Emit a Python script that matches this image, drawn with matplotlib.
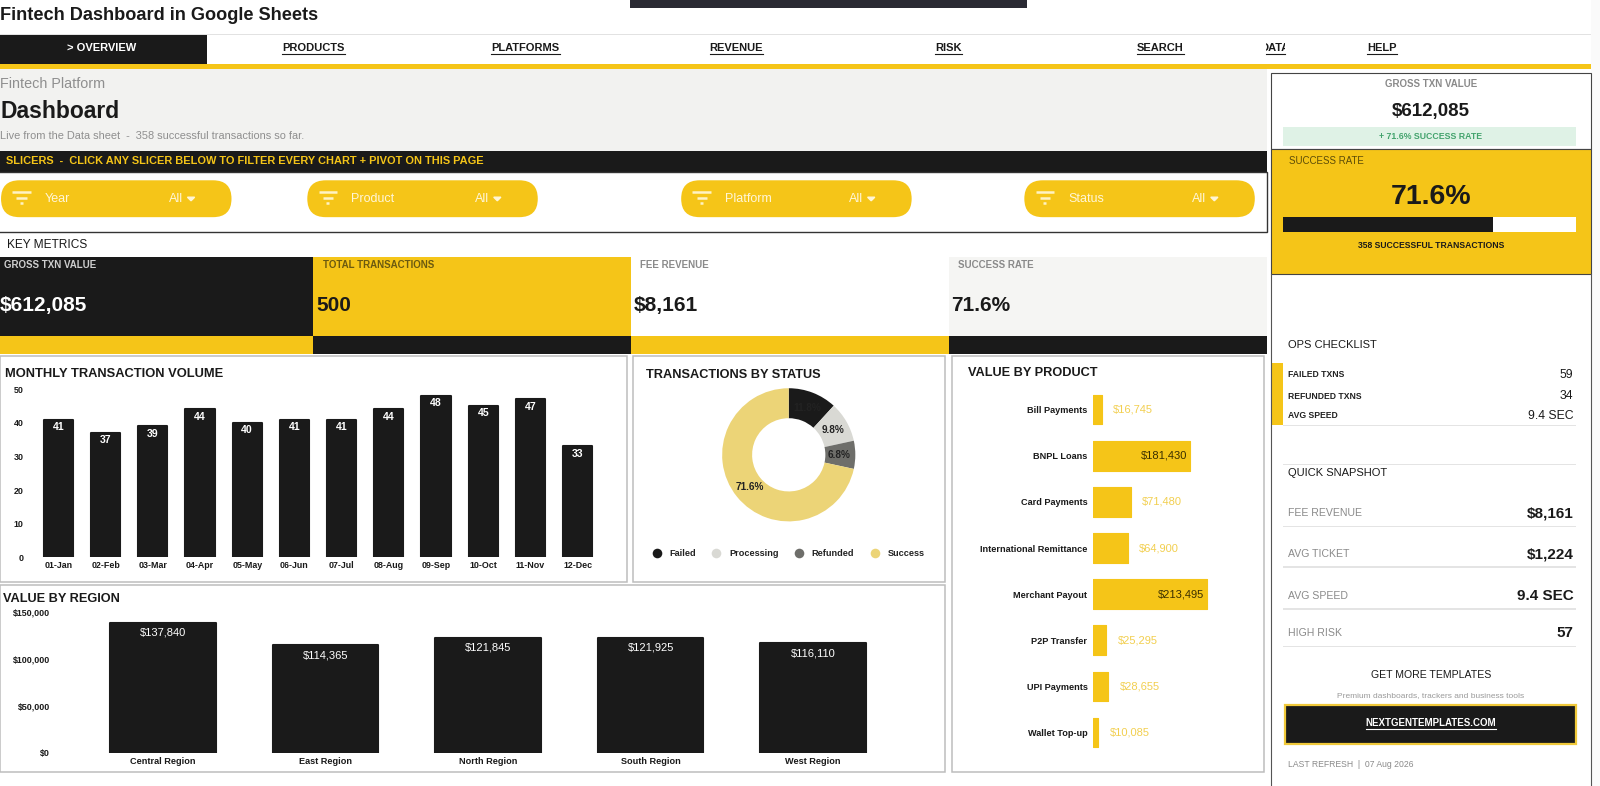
import matplotlib
matplotlib.use("Agg")
import matplotlib.pyplot as plt
from matplotlib.patches import Rectangle, FancyBboxPatch

# ---- data ----
months = ["01-Jan","02-Feb","03-Mar","04-Apr","05-May","06-Jun","07-Jul","08-Aug","09-Sep","10-Oct","11-Nov","12-Dec"]
month_counts = [41,37,39,44,40,41,41,44,48,45,47,33]
regions = ["Central Region","East Region","North Region","South Region","West Region"]
region_values = [137840,114365,121845,121925,116110]
products = ["Bill Payments","BNPL Loans","Card Payments","International Remittance","Merchant Payout","P2P Transfer","UPI Payments","Wallet Top-up"]
product_values = [16745,181430,71480,64900,213495,25295,28655,10085]
statuses = ["Failed","Processing","Refunded","Success"]
status_counts = [59,49,34,358]
status_colors = ["#1a1a1a","#d9d9d4","#6e6e6a","#ecd477"]
nav_items = ["PRODUCTS","PLATFORMS","REVENUE","RISK","SEARCH","HELP"]
nav_x = [306,513,719,926,1133,1349]
slicers = ["Year","Product","Platform","Status"]
slicer_x = [1,300,665,1000]
kpi_labels = ["GROSS TXN VALUE","TOTAL TRANSACTIONS","FEE REVENUE","SUCCESS RATE"]
kpi_values = ["$612,085","500","$8,161","71.6%"]
ops_rows = [("FAILED TXNS","59",366),("REFUNDED TXNS","34",387),("AVG SPEED","9.4 SEC",406)]
snap_rows = [("FEE REVENUE","$8,161",501,513),("AVG TICKET","$1,224",541,553),("AVG SPEED","9.4 SEC",582,594),("HIGH RISK","57",618,631)]

YEL="#f5c518"; BLK="#1a1a1a"; GRY="#8a8a8a"
W,H=1562,767.3
plt.rcParams['font.family']=['Liberation Sans','DejaVu Sans']
fig=plt.figure(figsize=(16,7.86),dpi=100,facecolor="white")
bg=fig.add_axes([0,0,1,1]); bg.set_xlim(0,W); bg.set_ylim(H,0); bg.axis("off")
rend=fig.canvas.get_renderer()

def R(x0,y0,x1,y1,fc,ec="none",lw=0,z=1):
    bg.add_patch(Rectangle((x0,y0),x1-x0,y1-y0,fc=fc,ec=ec,lw=lw,zorder=z))
def T(x,y,s,size,color=BLK,w="bold",ha="left",z=5,ul=False,**k):
    t=bg.text(x,y,s,fontsize=size,color=color,fontweight=w,ha=ha,va="center",zorder=z,**k)
    if ul:
        e=t.get_window_extent(rend); sc=W/1600
        bg.plot([e.x0*sc,e.x1*sc],[y+5.5,y+5.5],color=color,lw=0.8,zorder=z)
    return t
def A(x0,y0,x1,y1):
    a=fig.add_axes([x0/W,1-y1/H,(x1-x0)/W,(y1-y0)/H]); a.patch.set_alpha(0); return a

# header
R(615,0,1003,8,"#2a2a33")
R(1553,0,1562,767.3,"#fafafa")
T(0,15,"Fintech Dashboard in Google Sheets",13.1)
R(0,33.5,1553,34.5,"#e2e2e2")
R(0,34,202,62,BLK)
T(99,47,"> OVERVIEW",8,"white",ha="center")
for s,x in zip(nav_items,nav_x):
    T(x,47,s,8,BLK,ha="center",ul=True)
clip=Rectangle((1236,0),18,767,transform=bg.transData)
t=bg.text(1245,47,"DATA",fontsize=8,fontweight="bold",color=BLK,ha="center",va="center",zorder=5)
t.set_clip_path(clip); t.set_clip_on(True)
bg.plot([1236,1254],[52.5,52.5],color=BLK,lw=0.8,zorder=5)
R(0,62,1553,67,YEL)
# hero
R(0,67,1237,147,"#f2f2f0")
T(0,82,"Fintech Platform",10.4,"#8f8f8f","normal")
T(0,109,"Dashboard",16.5,BLK)
T(0,133,"Live from the Data sheet  -  358 successful transactions so far.",7.9,"#8f8f8f","normal")
R(0,147,1237,168,BLK)
T(6,157,"SLICERS  -  CLICK ANY SLICER BELOW TO FILTER EVERY CHART + PIVOT ON THIS PAGE",7.9,YEL)
R(-2,168,1237,226,"white",ec="#333333",lw=1)
for s,x in zip(slicers,slicer_x):
    bg.add_patch(FancyBboxPatch((x,176),225,36,boxstyle="round,pad=0,rounding_size=18",fc=YEL,ec=YEL,lw=0,zorder=3))
    for ww,yy in [(9,187.5),(5,193),(1.5,198)]:
        bg.plot([x+20-ww,x+20+ww],[yy,yy],color="#fff3c4",lw=1.8,zorder=4,solid_capstyle="butt")
    T(x+43,194,s,9,"#fff6d8","normal")
    T(x+164,194,"All",9,"#fff6d8","normal")
    bg.fill([x+182,x+189,x+185.5],[192.5,192.5,196],color="#fff6d8",zorder=4)
# KPIs
T(7,239,"KEY METRICS",8.6,BLK,"normal")
R(0,250.5,1237,251.5,"#dddddd")
kx=[0,306,616,926,1237]
fcs=[BLK,YEL,"white","#f5f5f3"]; lcs=["#cfcfcf","#6b5a10","#8a8a8a","#8a8a8a"]; vcs=["white",BLK,BLK,BLK]; strip=[YEL,BLK,YEL,BLK]
for i in range(4):
    R(kx[i],251,kx[i+1],328,fcs[i]); R(kx[i],328,kx[i+1],346,strip[i])
    T(kx[i]+(4 if i==0 else 9),258.5,kpi_labels[i],7,lcs[i])
    T(kx[i]+(0 if i==0 else 3),298,kpi_values[i],15,vcs[i])
# panels
for (a,b,c,d) in [(0,348,612,568),(618,348,923,568),(929,348,1234,754),(0,571,923,754)]:
    R(a,b,c,d,"white",ec="#bdbdbd",lw=1.1)
T(5,365,"MONTHLY TRANSACTION VOLUME",9.3)
T(631,366,"TRANSACTIONS BY STATUS",9.2)
T(945,364,"VALUE BY PRODUCT",9.2)
T(3,585,"VALUE BY REGION",9.2)

def clean(a):
    for s in a.spines.values(): s.set_visible(False)
    a.tick_params(length=0)
    a.patch.set_alpha(0)

# monthly
a=A(34,380,587,544); clean(a)
b=a.bar(range(12),month_counts,width=0.62,color=BLK,ec=BLK,lw=1.5)
for p in b: p.set_joinstyle("round")
a.set_xlim(-.5,11.5); a.set_ylim(0,50)
a.set_xticks(range(12),months,fontsize=6.4,fontweight="bold",color=BLK); a.tick_params(axis="x",pad=3)
a.set_yticks(range(0,51,10)); a.tick_params(axis="y",labelsize=6.4,pad=8,labelcolor=BLK)
for l in a.get_yticklabels(): l.set_fontweight("bold")
for i,v in enumerate(month_counts):
    a.text(i,v-2.2,str(v),color="white",fontsize=7.6,fontweight="bold",ha="center",va="center")

# region
a=A(80,597,873,735); clean(a)
b=a.bar(range(5),region_values,width=0.65,color=BLK,ec=BLK,lw=1.5)
for p in b: p.set_joinstyle("round")
a.set_xlim(-.5,4.5); a.set_ylim(0,150000)
a.set_xticks(range(5),regions,fontsize=6.6,fontweight="bold",color=BLK); a.tick_params(axis="x",pad=3)
a.set_yticks([0,50000,100000,150000],["$0","$50,000","$100,000","$150,000"],fontsize=6.4,fontweight="bold",color=BLK)
a.tick_params(axis="y",pad=23)

for i,v in enumerate(region_values):
    a.text(i,v-10500,f"${v:,}",color="white",fontsize=8,ha="center",va="center")

# product
a=A(1067,377.5,1197,737.5); clean(a)
ys=list(range(len(products)))
b=a.barh(ys,product_values,height=0.64,color=YEL,ec=YEL,lw=0.8)
for p in b: p.set_joinstyle("round")
a.set_ylim(len(products)-.5,-.5); a.set_xlim(0,250000)
a.set_xticks([])
a.set_yticks(ys,products,fontsize=6.6,fontweight="bold",color=BLK); a.tick_params(axis="y",pad=4)
for y,v in zip(ys,product_values):
    if v>150000:
        a.text(v-5000,y,f"${v:,}",fontsize=8,color="#3a2f00",ha="right",va="center")
    else:
        a.text(v+21000,y,f"${v:,}",fontsize=8,color="#f2cf4f",ha="left",va="center")

# donut
a=A(700,379,840,509); a.axis("off")
w,_,pct=a.pie(status_counts,colors=status_colors,startangle=90,counterclock=False,radius=1.0,
          wedgeprops=dict(width=0.45,lw=0),autopct="%.1f%%",pctdistance=0.76,
          textprops=dict(fontsize=7.2,fontweight="bold",color="#222222"))
a.set_aspect("equal")
a.set_xlim(-1.0,1.0); a.set_ylim(-1.0,1.0)
tot=sum(status_counts)
for s,c,x,tx in zip(statuses,status_colors,[641,699,780,854],[653,712,792,867]):
    bg.scatter([x],[540],s=48,color=c,zorder=5,lw=0)
    T(tx,540,s,6.6,"#222222")

# sidebar
R(1241,71,1553,145,"white",ec="#444444",lw=0.8)
T(1397,82,"GROSS TXN VALUE",7,"#8a8a8a",ha="center")
T(1397,109,"$612,085",13.5,BLK,ha="center")
R(1253,124,1539,143,"#dff2e6")
T(1397,133,"+ 71.6% SUCCESS RATE",6.3,"#43a36d",ha="center")
R(1241,145,1553,267,YEL,ec="#444444",lw=0.8)
T(1258,157,"SUCCESS RATE",7,"#5c4c08","normal")
T(1397,192,"71.6%",20.5,BLK,ha="center")
R(1253,212,1539,226,"white")
R(1253,212,1253+286*status_counts[3]/tot,226,BLK)
T(1397,240,"358 SUCCESSFUL TRANSACTIONS",6.2,BLK,ha="center")
bg.plot([1241,1241],[267,767],color="#555555",lw=0.8,zorder=2)
bg.plot([1553,1553],[267,767],color="#555555",lw=0.8,zorder=2)
T(1257,337,"OPS CHECKLIST",8,BLK,"normal")
R(1241,354,1253,415,YEL)
for l,v,y in ops_rows:
    T(1257,y,l,6.2,"#222222")
    T(1536,y,v,8.8,BLK,"normal",ha="right")
R(1253,415,1539,416,"#e4e4e4")
R(1253,453,1539,454,"#e4e4e4")
T(1257,462,"QUICK SNAPSHOT",8,BLK,"normal")
for l,v,y,ly in snap_rows:
    T(1257,y,l,7.6,"#8a8a8a","normal")
    T(1536,y,v,11,BLK,ha="right")
    R(1253,ly,1539,ly+1,"#e4e4e4")
T(1397,659,"GET MORE TEMPLATES",7.6,BLK,"normal",ha="center")
T(1397,679,"Premium dashboards, trackers and business tools",6,"#9a9a9a","normal",ha="center")
R(1254,688,1539,726,BLK,ec="#f0c93a",lw=1.6)
T(1397,706,"NEXTGENTEMPLATES.COM",7,"white",ha="center",ul=True)
T(1257,746,"LAST REFRESH  |  07 Aug 2026",6.2,"#8a8a8a","normal")

fig.savefig("out.png",dpi=100)
